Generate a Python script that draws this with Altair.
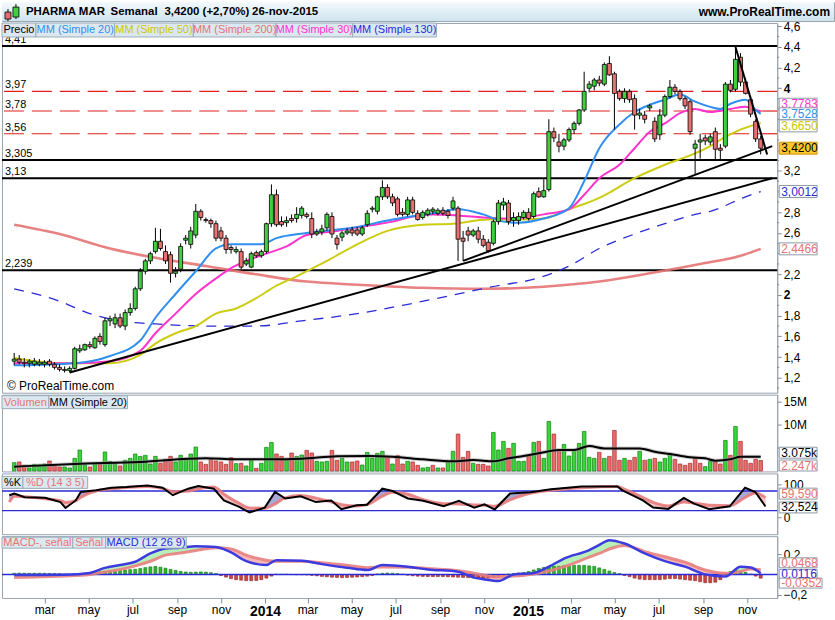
import altair as alt
import pandas as pd

# ---------------- values ----------------
FIRST_WEEK = "2013-01-18"   # weekly candles, 149 weeks

opens = [1.36,1.38,1.35,1.34,1.33,1.33,1.33,1.36,1.33,1.30,
         1.27,1.27,1.29,1.46,1.47,1.52,1.49,1.60,1.52,1.75,
         1.72,1.78,1.70,1.83,1.87,2.06,2.23,2.33,2.42,2.52,
         2.42,2.39,2.21,2.25,2.53,2.49,2.58,2.81,2.73,2.72,
         2.69,2.62,2.55,2.46,2.42,2.42,2.30,2.27,2.41,2.38,
         2.42,2.69,2.97,2.71,2.70,2.74,2.74,2.77,2.78,2.74,
         2.59,2.61,2.65,2.76,2.55,2.56,2.60,2.63,2.63,2.59,
         2.68,2.83,2.81,2.95,3.04,2.95,2.93,2.80,2.78,2.92,
         2.79,2.75,2.78,2.81,2.79,2.82,2.81,2.84,2.84,2.55,
         2.62,2.58,2.62,2.54,2.51,2.50,2.71,2.87,2.89,2.72,
         2.72,2.75,2.80,2.76,3.00,2.95,3.02,3.58,3.48,3.44,
         3.50,3.60,3.66,3.79,4.00,4.02,4.08,4.04,4.24,4.14,
         3.97,3.90,3.97,3.90,3.74,3.74,3.81,3.68,3.55,3.74,
         3.92,4.01,3.97,3.90,3.87,3.42,3.48,3.52,3.48,3.58,
         3.42,3.44,4.04,3.99,4.30,4.06,3.89,3.68,3.51]
highs = [1.44,1.42,1.39,1.38,1.39,1.38,1.37,1.38,1.35,1.33,
         1.31,1.31,1.50,1.52,1.53,1.55,1.60,1.63,1.78,1.80,
         1.82,1.82,1.86,1.92,2.08,2.26,2.35,2.42,2.65,2.64,
         2.48,2.42,2.27,2.50,2.58,2.66,2.88,2.83,2.75,2.74,
         2.72,2.66,2.58,2.48,2.47,2.45,2.36,2.42,2.43,2.44,
         2.70,3.07,3.02,2.76,2.76,2.78,2.85,2.86,2.80,2.80,
         2.64,2.68,2.80,2.80,2.58,2.62,2.65,2.66,2.66,2.67,
         2.82,2.86,2.96,3.11,3.07,2.98,2.95,2.84,2.95,2.95,
         2.82,2.82,2.84,2.85,2.84,2.85,2.83,2.95,2.86,2.62,
         2.66,2.64,2.66,2.58,2.54,2.73,2.92,2.94,2.92,2.80,
         2.80,2.82,2.84,3.00,3.04,3.12,3.70,3.62,3.56,3.52,
         3.62,3.68,3.80,4.16,4.07,4.10,4.12,4.25,4.31,4.16,
         3.99,4.00,3.99,3.94,3.80,3.78,3.85,3.72,3.80,3.94,
         4.08,4.04,3.99,3.92,3.89,3.50,3.56,3.55,3.56,3.62,
         3.46,4.06,4.08,4.40,4.34,4.10,3.92,3.70,3.54]
lows = [1.32,1.33,1.30,1.30,1.31,1.31,1.30,1.31,1.28,1.26,
        1.25,1.25,1.28,1.44,1.46,1.48,1.48,1.52,1.50,1.70,
        1.68,1.68,1.66,1.80,1.85,2.04,2.20,2.30,2.40,2.43,
        2.30,2.12,2.17,2.22,2.49,2.45,2.55,2.72,2.70,2.65,
        2.52,2.52,2.40,2.40,2.40,2.25,2.28,2.26,2.36,2.36,
        2.40,2.66,2.66,2.66,2.66,2.70,2.70,2.74,2.74,2.55,
        2.57,2.58,2.62,2.55,2.44,2.52,2.58,2.57,2.57,2.57,
        2.66,2.80,2.78,2.92,2.93,2.86,2.76,2.76,2.76,2.78,
        2.72,2.73,2.76,2.78,2.77,2.77,2.74,2.82,2.33,2.33,
        2.52,2.56,2.50,2.46,2.41,2.48,2.68,2.82,2.68,2.66,
        2.68,2.73,2.72,2.74,2.94,2.94,3.00,3.48,3.38,3.40,
        3.48,3.56,3.64,3.77,3.96,3.98,4.02,4.02,4.12,3.60,
        3.88,3.86,3.86,3.60,3.70,3.66,3.78,3.48,3.50,3.72,
        3.90,3.94,3.88,3.80,3.55,3.17,3.32,3.45,3.45,3.30,
        3.30,3.42,3.96,3.97,4.02,3.94,3.72,3.48,3.36]
closes = [1.38,1.35,1.34,1.36,1.36,1.35,1.35,1.33,1.30,1.28,
          1.28,1.29,1.48,1.48,1.52,1.50,1.58,1.55,1.75,1.77,
          1.78,1.70,1.83,1.87,2.06,2.23,2.33,2.40,2.52,2.45,
          2.33,2.21,2.23,2.47,2.55,2.62,2.81,2.75,2.72,2.69,
          2.55,2.55,2.44,2.44,2.44,2.27,2.33,2.40,2.38,2.42,
          2.69,2.97,2.68,2.68,2.72,2.72,2.78,2.84,2.76,2.59,
          2.61,2.64,2.78,2.59,2.49,2.60,2.62,2.60,2.59,2.65,
          2.79,2.84,2.95,3.04,2.95,2.89,2.78,2.78,2.92,2.80,
          2.73,2.80,2.82,2.83,2.82,2.79,2.77,2.91,2.54,2.52,
          2.58,2.62,2.54,2.48,2.43,2.71,2.89,2.90,2.71,2.75,
          2.76,2.80,2.74,2.98,2.95,3.01,3.58,3.52,3.44,3.50,
          3.60,3.66,3.79,3.97,4.04,4.08,4.05,4.23,4.13,3.95,
          3.90,3.97,3.89,3.74,3.76,3.70,3.83,3.51,3.74,3.92,
          4.01,3.97,3.90,3.83,3.58,3.46,3.50,3.49,3.53,3.41,
          3.40,4.04,3.98,4.28,4.06,3.95,3.75,3.51,3.42]

volumes = [1.79,1.94,1.22,0.65,1.43,1.29,1.50,2.15,1.22,0.86,
           0.86,0.65,2.72,4.52,1.29,0.86,1.58,1.58,4.09,2.08,
           1.58,1.08,2.30,2.72,3.66,3.15,3.37,1.50,3.15,1.65,
           2.51,3.15,1.94,3.37,2.72,3.66,5.16,1.94,1.43,2.51,
           2.15,1.94,1.43,2.87,1.58,1.65,1.08,2.37,0.57,1.65,
           5.09,6.16,3.66,3.15,2.37,3.87,3.15,3.44,4.44,3.87,
           2.08,1.94,2.08,4.44,2.30,2.72,1.94,1.94,2.15,1.29,
           4.01,2.72,3.80,4.23,3.15,1.50,3.37,1.50,2.08,1.94,
           1.22,0.65,0.79,1.22,0.65,0.65,1.94,4.23,7.96,2.94,
           4.23,1.65,1.43,1.43,1.08,8.31,4.52,6.38,4.87,5.95,
           2.08,2.08,3.23,6.16,6.38,2.72,10.68,7.96,4.23,5.73,
           3.23,4.52,5.95,8.53,2.94,2.72,4.01,2.72,3.15,8.74,
           2.30,2.72,2.30,2.94,4.23,2.30,2.51,2.72,1.94,2.72,
           3.80,2.51,1.50,1.22,1.65,2.72,1.65,0.93,2.08,1.94,
           1.50,6.59,3.37,9.60,6.38,2.30,1.65,2.51,2.25]
vol_dir = list("grrggggrrr" "gggggrgrgg" "grgggggggr" "rrgggggrrr" "rrrrgrggrg"
               "ggrrgrggrr" "gggrrggrrg" "ggggrg"
               "rrgrrggrgr" "ggrrrgrrrg" "ggrgggrgrg" "grrggggggg" "rgrrrgrrgr"
               "grgggrrrrr" "rggrrgrgrr" "rrr")

# moving averages: (week index, value)
sma20_idx = [0,12,19,25,28,32,36,40,43,46,49,52,58,67,75,83,88,93,97,100,105,110,113,116,120,123,126,129,132,135,138,140,142,145,147,148]
sma20_val = [1.32,1.34,1.41,1.56,1.78,2.01,2.23,2.45,2.49,2.49,2.49,2.55,2.60,2.65,2.73,2.79,2.83,2.78,2.71,2.70,2.74,2.84,3.10,3.42,3.65,3.77,3.84,3.89,3.94,3.87,3.82,3.80,3.85,3.89,3.79,3.7528]
sma30_idx = [0,12,19,25,28,32,36,40,43,46,50,54,58,64,70,75,79,83,88,93,97,101,105,110,113,116,120,123,126,129,132,135,138,142,145,147,148]
sma30_val = [1.34,1.34,1.36,1.46,1.63,1.82,2.01,2.16,2.26,2.33,2.40,2.47,2.58,2.62,2.67,2.71,2.76,2.78,2.77,2.75,2.74,2.75,2.78,2.83,2.97,3.13,3.26,3.42,3.58,3.66,3.76,3.80,3.77,3.80,3.82,3.79,3.7783]
sma50_idx = [0,9,19,25,28,32,36,40,44,48,52,56,58,62,68,74,81,87,94,100,105,110,113,116,123,129,135,138,141,144,147,148]
sma50_val = [1.39,1.34,1.34,1.42,1.53,1.63,1.70,1.82,1.87,1.97,2.09,2.18,2.23,2.33,2.49,2.62,2.68,2.69,2.73,2.73,2.74,2.83,2.88,2.94,3.13,3.26,3.37,3.44,3.53,3.60,3.65,3.665]
sma200_idx = [0,9,19,28,38,48,58,68,81,93,105,116,126,136,144,148]
sma200_val = [2.68,2.59,2.45,2.36,2.28,2.20,2.13,2.10,2.07,2.06,2.08,2.13,2.21,2.30,2.38,2.4466]
sma130_idx = [0,9,15,21,28,38,48,57,68,77,87,97,101,110,116,123,129,135,138,145,148]
sma130_val = [2.06,1.94,1.82,1.75,1.72,1.70,1.70,1.75,1.82,1.90,2.00,2.10,2.13,2.28,2.45,2.59,2.69,2.78,2.81,2.95,3.0012]

black_levels = [4.41, 3.305, 3.13, 2.239]
black_labels = ["4,41", "3,305", "3,13", "2,239"]
red_levels = [3.97, 3.78, 3.56]
red_labels = ["3,97", "3,78", "3,56"]

# trend lines: start week index / price, end date / price
trend_start_idx = [11, 89, 143]
trend_start_price = [1.25, 2.33, 4.40]
trend_end_date = ["2015-12-06", "2015-12-06", "2015-11-29"]
trend_end_price = [3.13, 3.44, 3.36]

volma_idx = [0,12,25,38,44,51,57,64,70,75,81,87,91,95,98,101,104,108,111,114,117,121,124,127,130,134,137,139,142,144,148]
volma_val = [0.93,1.5,1.94,2.72,2.5,2.5,2.65,3.15,3.23,3.08,2.5,2.08,2.37,2.08,2.72,3.23,3.8,4.52,4.52,5.37,4.87,4.87,4.87,4.16,3.66,2.94,2.72,2.22,2.51,3.08,3.075]

stoch_idx = [0,1,3,7,10,11,13,14,17,20,23,27,30,32,35,37,40,42,45,47,50,52,54,57,60,63,65,68,70,73,75,78,81,85,88,91,93,95,98,102,106,112,119,120,124,126,129,132,134,137,141,144,146,148]
stoch_k = [67,72,61,59,46,28,51,77,82,90,92,97,90,67,87,95,87,51,31,14,29,77,57,64,46,51,24,36,38,87,80,57,50,33,50,29,39,23,72,76,85,94,94,82,51,29,25,59,41,24,33,90,77,32.524]
stoch_d = [46,64,62,56,50,45,50,61,80,87,91,94,88,78,80,87,92,70,42,28,27,40,59,66,58,47,38,34,38,64,76,70,53,41,40,37,36,33,53,73,82,90,94,88,60,45,34,46,43,36,35,60,74,59.59]

macd_idx = [0,5,10,15,18,21,24,27,30,33,36,40,43,46,50,52,57,61,66,70,73,78,82,88,91,93,96,99,103,106,109,114,116,118,121,125,129,133,137,141,144,146,148]
macd_line = [-0.005,-0.005,-0.003,0.016,0.065,0.093,0.125,0.207,0.255,0.262,0.278,0.27,0.216,0.131,0.093,0.141,0.135,0.102,0.067,0.044,0.093,0.077,0.05,0.028,-0.028,-0.045,-0.063,0.0,0.016,0.077,0.157,0.239,0.29,0.337,0.304,0.207,0.131,0.077,0.002,-0.02,0.077,0.07,0.0116]
macd_signal = [-0.03,-0.022,-0.015,0.0,0.025,0.05,0.085,0.13,0.19,0.21,0.235,0.262,0.25,0.19,0.14,0.13,0.131,0.115,0.09,0.067,0.074,0.072,0.06,0.038,0.015,-0.005,-0.022,-0.015,0.006,0.035,0.077,0.17,0.207,0.25,0.285,0.225,0.174,0.12,0.045,0.012,0.03,0.054,0.0468]
macd_hist = ([0.012,0.014,0.013,0.012,0.012,0.013,0.012,0.011,0.010,0.008]
             + [0.004,0.002,0.003]
             + [0.005,0.01,0.015,0.02,0.025,0.03,0.033,0.036,0.04,0.044,0.048,0.052,0.06,0.068,
                0.075,0.08,0.072,0.062,0.05,0.04,0.03,0.025,0.022,0.024,0.026,0.024,0.018,0.01]
             + [-0.01,-0.025,-0.04,-0.05,-0.055,-0.06,-0.06,-0.058,-0.05,-0.035,-0.015]
             + [0.003,0.002,0.003,0.0,-0.002,-0.002,-0.004]
             + [-0.008,-0.012,-0.018,-0.022,-0.026,-0.028,-0.03,-0.028,-0.026,-0.024,-0.02,-0.016,-0.01]
             + [0.006,0.012,0.015,0.013,0.01,0.004]
             + [-0.006,-0.012,-0.016,-0.018,-0.02,-0.02,-0.02,-0.02,-0.022,-0.024,-0.026,-0.028,-0.03,
                -0.032,-0.034,-0.035,-0.033,-0.028,-0.018,-0.008]
             + [0.005,0.01,0.015,0.02,0.03,0.045,0.06,0.07,0.075,0.08,0.08,0.085,0.085,0.09,0.09,0.09,
                0.085,0.08,0.065,0.05,0.035,0.02,0.01]
             + [-0.01,-0.02,-0.035,-0.045,-0.05,-0.05,-0.05,-0.05,-0.045,-0.04,-0.04,-0.045,-0.05,-0.055,
                -0.06,-0.07,-0.08,-0.08,-0.075,-0.05]
             + [0.01,0.03,0.04,0.03,0.02,0.005]
             + [-0.015,-0.0352])

price_ticks = [1.2,1.4,1.6,1.8,2,2.2,2.4,2.6,2.8,3,3.2,3.4,3.6,3.8,4,4.2,4.4,4.6]
price_hidden = [2.4, 3, 3.4, 3.6, 3.8]     # labels covered by the value boxes
price_minor = [1.1,1.3,1.5,1.7,1.9,2.1,2.3,2.5,2.7,2.9,3.1,3.3,3.5,3.7,3.9,4.1,4.3,4.5]
month_ticks = [(2013,3),(2013,5),(2013,7),(2013,9),(2013,11),(2014,1),(2014,3),(2014,5),(2014,7),
               (2014,9),(2014,11),(2015,1),(2015,3),(2015,5),(2015,7),(2015,9),(2015,11)]

# ---------------- build ----------------
FONT = "Liberation Sans"
W = 778
dates = pd.date_range(FIRST_WEEK, periods=len(closes), freq="7D")
def at(idx):
    return [dates[i] for i in idx]

dummy = pd.DataFrame({"a": [0]})
xscale = alt.Scale(domain=[alt.DateTime(year=2013, month=1, date=8),
                           alt.DateTime(year=2015, month=12, date=6)])
def XN(field="date"):
    return alt.X(f"{field}:T", scale=xscale, axis=None)

AXC = dict(orient="right", tickSize=4, tickColor="#7f8c99", domainColor="#98a4ae",
           labelFont=FONT, labelFontSize=12, labelColor="black", labelPadding=2,
           grid=False, title=None, labelFlush=False, labelOverlap=False)

def box_layers(val, text, color, yb, yoff=0, fill="white", stroke="#8d9aa6", x0=780, x1=818, half=6):
    df = pd.DataFrame({"v": [val], "t": [text]})
    r = alt.Chart(df).mark_rect(fill=fill, stroke=stroke, strokeWidth=1,
                                yOffset=yoff - half, y2Offset=yoff + half).encode(
        x=alt.value(x0), x2=alt.value(x1), y=yb("v:Q"), y2=alt.Y2("v"))
    t = alt.Chart(df).mark_text(align="left", baseline="middle", dy=yoff, fontSize=12,
                                font=FONT, color=color).encode(
        x=alt.value(x0 + 2), y=yb("v:Q"), text="t:N")
    return [r, t]

def legend_layers(items, y0, y1):
    out = []
    for x0, x1, t, c in items:
        out.append(alt.Chart(dummy).mark_rect(fill="#dce8f0", stroke="#9aabb9", strokeWidth=1).encode(
            x=alt.value(x0), x2=alt.value(x1), y=alt.value(y0), y2=alt.value(y1)))
        out.append(alt.Chart(dummy).mark_text(align="center", baseline="middle", fontSize=11,
                                              font=FONT, color=c).encode(
            x=alt.value((x0 + x1) / 2), y=alt.value((y0 + y1) / 2 + 0.5), text=alt.value(t)))
    return out

# ---- header ----
grad = alt.Gradient(gradient="linear", stops=[alt.GradientStop(color="#f3f9fc", offset=0),
                                              alt.GradientStop(color="#cfe4ef", offset=1)],
                    x1=0, x2=0, y1=0, y2=1)
hdr = [alt.Chart(dummy).mark_rect(color=grad).encode(x=alt.value(0), x2=alt.value(835),
                                                    y=alt.value(0), y2=alt.value(19))]
hdr.append(alt.Chart(dummy).mark_rule(color="black").encode(x=alt.value(6), y=alt.value(7), y2=alt.value(19)))
hdr.append(alt.Chart(dummy).mark_rect(fill="#e86a6a", stroke="black", strokeWidth=0.8).encode(
    x=alt.value(3), x2=alt.value(9), y=alt.value(10), y2=alt.value(17)))
hdr.append(alt.Chart(dummy).mark_rule(color="black").encode(x=alt.value(14), y=alt.value(2), y2=alt.value(17)))
hdr.append(alt.Chart(dummy).mark_rect(fill="#3fcf3f", stroke="black", strokeWidth=0.8).encode(
    x=alt.value(11), x2=alt.value(17), y=alt.value(5), y2=alt.value(15)))
for xpos, txt in [(24, "PHARMA MAR"), (109, "Semanal"), (163, "3,4200 (+2,70%)"), (251, "26-nov-2015")]:
    hdr.append(alt.Chart(dummy).mark_text(align="left", baseline="middle", fontSize=11.5, fontWeight="bold",
                                          font=FONT, color="black").encode(
        x=alt.value(xpos), y=alt.value(10), text=alt.value(txt)))
hdr.append(alt.Chart(dummy).mark_text(align="right", baseline="middle", fontSize=12, fontWeight="bold",
                                      font=FONT, color="black").encode(
    x=alt.value(831), y=alt.value(10), text=alt.value("www.ProRealTime.com")))
header = alt.layer(*hdr).properties(width=835, height=19)

# ---- price panel ----
p_scale = alt.Scale(domain=[1.055, 4.631], nice=False, zero=False)
int_test = "abs(datum.value - round(datum.value)) < 0.000001"
hide_test = " || ".join(f"abs(datum.value - {h}) < 0.000001" for h in price_hidden)
p_axis = alt.Axis(values=price_ticks,
                  labelExpr=f"({hide_test}) ? '' : ({int_test} ? format(datum.value, 'd') : "
                            "replace(format(datum.value, '.1f'), '.', ','))",
                  labelFontWeight={"condition": {"test": int_test, "value": "bold"}, "value": "normal"},
                  **AXC)
def PY(f):
    return alt.Y(f, scale=p_scale, axis=p_axis)

candles = pd.DataFrame({"date": dates, "o": opens, "h": highs, "l": lows, "c": closes})
lv_black = pd.DataFrame({"v": black_levels, "t": black_labels})
lv_red = pd.DataFrame({"v": red_levels, "t": red_labels})
minor_df = pd.DataFrame({"v": price_minor})

P = []
P.append(alt.Chart(lv_red).mark_rule(color="#e02020", strokeWidth=1.2, strokeDash=[20, 8]).encode(y=PY("v:Q")))
P.append(alt.Chart(lv_black).mark_rule(color="black", strokeWidth=2).encode(y=PY("v:Q")))
P.append(alt.Chart(pd.concat([lv_black, lv_red])).mark_text(align="left", baseline="alphabetic", dy=-3,
                                                             fontSize=11, font=FONT, color="black").encode(
    x=alt.value(3), y=PY("v:Q"), text="t:N"))
P.append(alt.Chart(minor_df).mark_rule(color="#7f8c99").encode(x=alt.value(W), x2=alt.value(W + 2), y=PY("v:Q")))

def ma_layer(idx, vals, color, width, dash=None, opacity=1.0):
    df = pd.DataFrame({"date": at(idx), "v": vals})
    kw = dict(color=color, strokeWidth=width, interpolate="monotone", opacity=opacity)
    if dash:
        kw["strokeDash"] = dash
    return alt.Chart(df).mark_line(**kw).encode(x=XN(), y=PY("v:Q"))

P.append(ma_layer(sma200_idx, sma200_val, "#e57373", 2.6, opacity=0.9))
P.append(ma_layer(sma130_idx, sma130_val, "#2a2ad8", 1.3, dash=[10, 8]))
P.append(ma_layer(sma50_idx, sma50_val, "#cccc10", 2))
P.append(ma_layer(sma30_idx, sma30_val, "#ff33cc", 2))
P.append(ma_layer(sma20_idx, sma20_val, "#2f8ff0", 2))

P.append(alt.Chart(candles).mark_rule(color="black", strokeWidth=1).encode(
    x=XN(), y=PY("l:Q"), y2=alt.Y2("h")))
P.append(alt.Chart(candles).mark_bar(size=4, stroke="black", strokeWidth=0.8).encode(
    x=XN(), y=PY("o:Q"), y2=alt.Y2("c"),
    color=alt.condition("datum.c >= datum.o", alt.value("#3fcf3f"), alt.value("#e87070"))))

trend = pd.DataFrame({"d0": at(trend_start_idx), "p0": trend_start_price,
                      "d1": pd.to_datetime(trend_end_date), "p1": trend_end_price})
P.append(alt.Chart(trend).mark_rule(color="black", strokeWidth=2).encode(
    x=XN("d0"), x2=alt.X2("d1"), y=PY("p0:Q"), y2=alt.Y2("p1")))

P += box_layers(3.7783, "3,7783", "#ff33cc", PY, yoff=-7)
P += box_layers(3.7528, "3,7528", "#2f8ff0", PY)
P += box_layers(3.665, "3,6650", "#c8c800", PY, yoff=3)
P += box_layers(3.42, "3,4200", "black", PY, fill="#fdc62a", stroke="#c89a10")
P += box_layers(3.0012, "3,0012", "#2a2ad8", PY)
P += box_layers(2.4466, "2,4466", "#e57373", PY)
P.append(alt.Chart(dummy).mark_text(align="left", baseline="middle", fontSize=12, font=FONT, color="black").encode(
    x=alt.value(5), y=alt.value(364), text=alt.value("© ProRealTime.com")))
P += legend_layers([(0, 34, "Precio", "black"), (34, 113, "MM (Simple 20)", "#2f8ff0"),
                    (113, 192, "MM (Simple 50)", "#c8c800"), (192, 275, "MM (Simple 200)", "#e57373"),
                    (275, 352, "MM (Simple 30)", "#ff33cc"), (352, 436, "MM (Simple 130)", "#2a2ad8")], 0, 14)
price = alt.layer(*P).properties(width=W, height=371)

# ---- volume panel ----
v_scale = alt.Scale(domain=[-0.1, 16.45], nice=False, zero=False)
v_axis = alt.Axis(values=[5, 10, 15], labelExpr="datum.value >= 10 ? datum.value + 'M' : ''", **AXC)
def VY(f):
    return alt.Y(f, scale=v_scale, axis=v_axis)
vol_df = pd.DataFrame({"date": dates, "v": volumes, "d": vol_dir, "z": 0.0})
volma_df = pd.DataFrame({"date": at(volma_idx), "v": volma_val})
V = []
V.append(alt.Chart(vol_df).mark_bar(size=3.6, strokeWidth=0.7).encode(
    x=XN(), y=VY("v:Q"), y2=alt.Y2("z"),
    color=alt.condition("datum.d == 'g'", alt.value("#3bd43b"), alt.value("#ea6b6b")),
    stroke=alt.condition("datum.d == 'g'", alt.value("#0f7f0f"), alt.value("#a62a2a"))))
V.append(alt.Chart(volma_df).mark_line(color="#999999", strokeWidth=4, opacity=0.5, interpolate="monotone").encode(
    x=XN(), y=VY("v:Q")))
V.append(alt.Chart(volma_df).mark_line(color="black", strokeWidth=2, interpolate="monotone").encode(
    x=XN(), y=VY("v:Q")))
V += box_layers(3.075, "3.075k", "black", VY, yoff=-4, half=5.5)
V += box_layers(2.247, "2.247k", "#e57373", VY, yoff=5, half=5.5)
V += legend_layers([(0, 47, "Volumen", "#e57373"), (47, 126, "MM (Simple 20)", "black")], 1, 14)
volume = alt.layer(*V).properties(width=W, height=77)

# ---- stochastic panel ----
s_scale = alt.Scale(domain=[-52.6, 133.9], nice=False, zero=False)
s_axis = alt.Axis(values=[0, 100], labelExpr="format(datum.value, 'd')", **AXC)
def SY(f):
    return alt.Y(f, scale=s_scale, axis=s_axis)
st_df = pd.DataFrame({"date": at(stoch_idx), "k": stoch_k, "d": stoch_d})
S = []
S.append(alt.Chart(st_df).transform_calculate(top="max(datum.k, datum.d)").mark_area(
    color="#a0a0d4", opacity=0.9).encode(x=XN(), y=SY("top:Q"), y2=alt.Y2("d")))
S.append(alt.Chart(st_df).transform_calculate(top="max(datum.k, datum.d)").mark_area(
    color="#f4bcbc", opacity=0.9).encode(x=XN(), y=SY("top:Q"), y2=alt.Y2("k")))
S.append(alt.Chart(pd.DataFrame({"v": [20, 80]})).mark_rule(color="#2a2ad8", strokeWidth=1.3).encode(y=SY("v:Q")))
S.append(alt.Chart(st_df).mark_line(color="#e57b7b", strokeWidth=3, opacity=0.9, interpolate="monotone").encode(
    x=XN(), y=SY("d:Q")))
S.append(alt.Chart(st_df).mark_line(color="black", strokeWidth=2).encode(x=XN(), y=SY("k:Q")))
S += box_layers(59.59, "59,590", "#e57373", SY, yoff=-4, half=5.5)
S += box_layers(32.524, "32,524", "black", SY, yoff=1, half=5.5)
S += legend_layers([(0, 21, "%K", "black"), (21, 86, "%D (14 3 5)", "#e57373")], 3, 15)
stoch = alt.layer(*S).properties(width=W, height=61)

# ---- MACD panel ----
m_scale = alt.Scale(domain=[-0.2293, 0.3756], nice=False, zero=False)
m_axis = alt.Axis(values=[-0.2, 0.2], labelExpr="replace(format(datum.value, '.1f'), '.', ',')", **AXC)
def MY(f):
    return alt.Y(f, scale=m_scale, axis=m_axis)
yr_test = "month(datum.value) == 0"
x_axis = alt.Axis(values=[alt.DateTime(year=y, month=m, date=1) for y, m in month_ticks],
                  labelExpr=f"{yr_test} ? timeFormat(datum.value, '%Y') : "
                            "['ene','feb','mar','abr','may','jun','jul','ago','sep','oct','nov','dic'][month(datum.value)]",
                  labelFontWeight={"condition": {"test": yr_test, "value": "bold"}, "value": "normal"},
                  labelFontSize={"condition": {"test": yr_test, "value": 14}, "value": 12},
                  labelFont=FONT, labelColor="black", tickColor="#7f8c99", tickSize=5, labelPadding=2,
                  domain=False, grid=False, title=None, labelAngle=0, labelFlush=False, labelOverlap=False)
def XM(field="date"):
    return alt.X(f"{field}:T", scale=xscale, axis=x_axis)
md_df = pd.DataFrame({"date": at(macd_idx), "m": macd_line, "s": macd_signal})
hist_df = pd.DataFrame({"date": dates, "h": macd_hist, "z": 0.0})
M = []
M.append(alt.Chart(md_df).transform_calculate(top="max(datum.m, datum.s)").mark_area(
    color="#b4eeb4", opacity=0.95, interpolate="monotone").encode(x=XM(), y=MY("top:Q"), y2=alt.Y2("s")))
M.append(alt.Chart(md_df).transform_calculate(top="max(datum.m, datum.s)").mark_area(
    color="#f4b4b4", opacity=0.95, interpolate="monotone").encode(x=XM(), y=MY("top:Q"), y2=alt.Y2("m")))
M.append(alt.Chart(hist_df).mark_bar(size=3, strokeWidth=0.6).encode(
    x=XM(), y=MY("h:Q"), y2=alt.Y2("z"),
    color=alt.condition("datum.h >= 0", alt.value("#2fb52f"), alt.value("#d04444")),
    stroke=alt.condition("datum.h >= 0", alt.value("#127a12"), alt.value("#8a2020"))))
M.append(alt.Chart(pd.DataFrame({"v": [0.0]})).mark_rule(color="#2a2ad8", strokeWidth=1.5).encode(y=MY("v:Q")))
M.append(alt.Chart(md_df).mark_line(color="#e88080", strokeWidth=3, opacity=0.9, interpolate="monotone").encode(
    x=XM(), y=MY("s:Q")))
M.append(alt.Chart(md_df).mark_line(color="#3b3be0", strokeWidth=2.5, interpolate="monotone").encode(
    x=XM(), y=MY("m:Q")))
M += box_layers(0.0468, "0,0468", "#e57373", MY, yoff=-7, half=5)
M += box_layers(0.0116, "0,0116", "#2a2ad8", MY, yoff=1, half=5)
M += box_layers(-0.0352, "-0,0352", "#e57373", MY, yoff=5, x1=823, half=5)
M += legend_layers([(0, 71, "MACD-, señal", "#e57373"), (71, 104, "Señal", "#e57373"),
                    (104, 185, "MACD (12 26 9)", "#2a2ad8")], 1, 12)
macd = alt.layer(*M).properties(width=W, height=62)

chart = alt.vconcat(header, price, volume, stoch, macd, spacing=2, bounds="flush").properties(
    padding={"left": 0, "top": 0, "right": 0, "bottom": 0},
    background="white"
).configure(font=FONT).configure_view(stroke="#98a4ae", strokeWidth=1)

chart.save("out.html", embed_options={"renderer": "svg", "actions": False})
